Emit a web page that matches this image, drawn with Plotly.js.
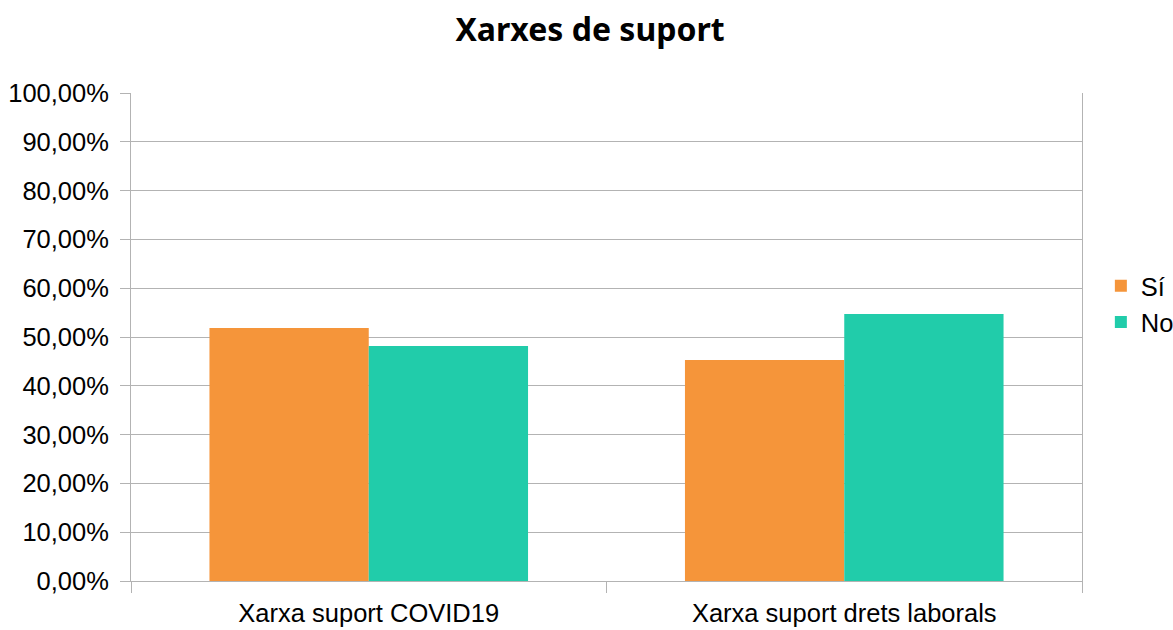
<!DOCTYPE html>
<html><head><meta charset="utf-8">
<script src="https://cdn.plot.ly/plotly-3.0.1.min.js"></script>
<style>body{margin:0;background:#fff}#c{width:1173px;height:630px}</style>
</head><body><div id="c"></div>
<script>
const categories = ["Xarxa suport COVID19", "Xarxa suport drets laborals"];
const si = [0.5185, 0.453];
const no = [0.4815, 0.547];
const tickVals = [0,0.1,0.2,0.3,0.4,0.5,0.6,0.7,0.8,0.9,1.0];
const tickText = ["0,00%","10,00%","20,00%","30,00%","40,00%","50,00%","60,00%","70,00%","80,00%","90,00%","100,00%"];

const data = [
  {type:'bar', name:'Sí', x:categories, y:si, marker:{color:'#F5953A'}},
  {type:'bar', name:'No', x:categories, y:no, marker:{color:'#21CCAA'}}
];
const layout = {
  width:1173, height:630,
  margin:{l:131, r:91, t:93, b:49},
  paper_bgcolor:'#fff', plot_bgcolor:'#fff',
  font:{family:'"Liberation Sans", Arial, sans-serif', size:25.5, color:'#000'},
  title:{text:'<b>Xarxes de suport</b>', x:0.503, xanchor:'center', y:0.952, yanchor:'middle',
         font:{family:'"Noto Sans", sans-serif', size:32, color:'#000'}},
  barmode:'group', bargap:0.33, bargroupgap:0,
  xaxis:{type:'category', showline:true, linecolor:'#b3b3b3', linewidth:1,
         ticks:'outside', tickson:'boundaries', ticklen:11, tickcolor:'#b3b3b3',
         showgrid:false, tickfont:{size:25.5}, automargin:false, ticklabelstandoff:9},
  yaxis:{range:[0,1], tickvals:tickVals, ticktext:tickText, showline:true, mirror:true,
         linecolor:'#b3b3b3', linewidth:1, ticks:'outside', ticklen:10, tickcolor:'#b3b3b3',
         showgrid:true, gridcolor:'#b3b3b3', gridwidth:1, zeroline:false,
         tickfont:{size:25.5}, automargin:false, ticklabelstandoff:6},
  legend:{xref:'container', yref:'container', x:0.9385, xanchor:'left', y:0.517, yanchor:'middle',
          font:{size:25.5}, itemwidth:30, tracegroupgap:0, bgcolor:'rgba(0,0,0,0)'},
  showlegend:true
};
Plotly.newPlot('c', data, layout, {displayModeBar:false, staticPlot:true});
</script></body></html>
